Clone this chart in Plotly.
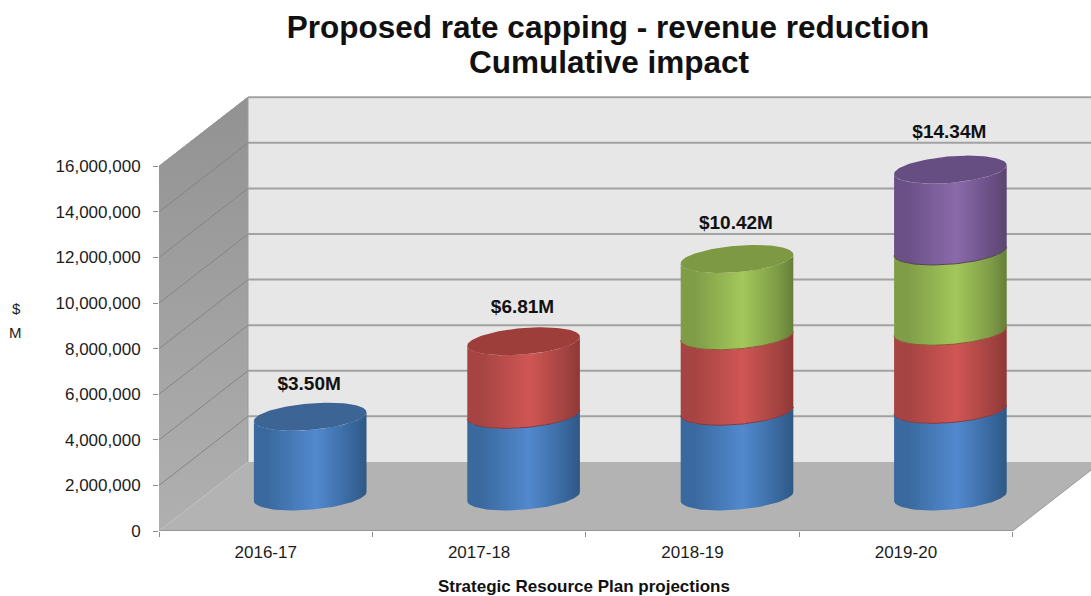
import numpy as np
import plotly.graph_objects as go

# Financial years and cumulative stacked revenue reductions, in dollars
years = ["2016-17", "2017-18", "2018-19", "2019-20"]
tranche_1 = [3500000, 3600000, 3740000, 3820000]
tranche_2 = [0, 3210000, 3310000, 3430000]
tranche_3 = [0, 0, 3370000, 3520000]
tranche_4 = [0, 0, 0, 3570000]
y_ticks = [0, 2000000, 4000000, 6000000, 8000000, 10000000, 12000000, 14000000, 16000000]

# (left shade, middle highlight, right shade, cap colour, seam colour)
PALETTE = [
    ("#39699F", "#5289CE", "#2E5985", "#3C6595", "#35598A"),
    ("#A54442", "#D05654", "#8F3836", "#9D3E3B", "#7E3A44"),
    ("#7F9D47", "#A3C75B", "#667F39", "#7E9943", "#8A5A35"),
    ("#6A5086", "#8B6AAB", "#5C4571", "#664E82", "#574450"),
]

# Oblique projection of the chart box, in axis units
VALUE_MAX = 16000000
DEPTH_X = 0.417
DEPTH_Y = 3030000
RADIUS_X = 0.25
SHEAR_X = 0.0845
RADIUS_Y = 614000
FONT = "Liberation Sans"
INK = "#1c1c1c"


def ellipse(cx, cy, t):
    return cx + RADIUS_X * np.cos(t) + SHEAR_X * np.sin(t), cy + RADIUS_Y * np.sin(t)


def add_fill(fig, xs, ys, **kwargs):
    fig.add_trace(go.Scatter(x=xs, y=ys, mode="lines", fill="toself", line=dict(width=0),
                             hoverinfo="skip", showlegend=False, **kwargs))


fig = go.Figure()
n = len(years)

# Back wall, side wall and floor of the chart box
add_fill(fig, [DEPTH_X, n + DEPTH_X, n + DEPTH_X, DEPTH_X],
         [DEPTH_Y, DEPTH_Y, VALUE_MAX + DEPTH_Y, VALUE_MAX + DEPTH_Y], fillcolor="#E7E7E7")
add_fill(fig, [0, DEPTH_X, DEPTH_X, 0], [0, DEPTH_Y, VALUE_MAX + DEPTH_Y, VALUE_MAX],
         fillgradient=dict(type="vertical", colorscale=[[0, "#B0B0B0"], [1, "#929292"]]))
add_fill(fig, [0, n, n + DEPTH_X, DEPTH_X], [0, 0, DEPTH_Y, DEPTH_Y], fillcolor="#B3B3B3")

# Gridlines bending from the side wall onto the back wall
side_x, side_y, back_x, back_y = [], [], [], []
for v in y_ticks:
    if v > 0:
        side_x += [0, DEPTH_X, None]
        side_y += [v, v + DEPTH_Y, None]
        back_x += [DEPTH_X, n + DEPTH_X, None]
        back_y += [v + DEPTH_Y, v + DEPTH_Y, None]
fig.add_trace(go.Scatter(x=side_x, y=side_y, mode="lines", line=dict(color="#858585", width=1),
                         hoverinfo="skip", showlegend=False))
fig.add_trace(go.Scatter(x=back_x, y=back_y, mode="lines", line=dict(color="#A2A2A2", width=2),
                         hoverinfo="skip", showlegend=False))

# Box outline and the category axis line
fig.add_trace(go.Scatter(x=[0, DEPTH_X, DEPTH_X, None, n, n + DEPTH_X],
                         y=[VALUE_MAX, VALUE_MAX + DEPTH_Y, DEPTH_Y, None, 0, DEPTH_Y],
                         mode="lines", line=dict(color="#9A9A9A", width=1),
                         hoverinfo="skip", showlegend=False))
fig.add_trace(go.Scatter(x=[0, n], y=[0, 0], mode="lines", line=dict(color="#8C8C8C", width=1.5),
                         hoverinfo="skip", showlegend=False))

# Stacked cylinders, drawn bottom-up so each segment overlaps the one below
t_extreme = np.arctan2(SHEAR_X, RADIUS_X)
front = np.linspace(t_extreme, t_extreme - np.pi, 60)
full = np.linspace(0, 2 * np.pi, 120)
series = [tranche_1, tranche_2, tranche_3, tranche_4]
totals = [sum(s[i] for s in series) for i in range(n)]

for i in range(n):
    cx = i + 0.5 + DEPTH_X / 2
    base = DEPTH_Y / 2
    top_style = None
    for s, style in zip(series, PALETTE):
        h = s[i]
        if h <= 0:
            continue
        bx, by = ellipse(cx, base, front)
        tx, ty = ellipse(cx, base + h, front)
        add_fill(fig, list(bx) + list(tx[::-1]), list(by) + list(ty[::-1]),
                 fillgradient=dict(type="horizontal", colorscale=[
                     [0, style[0]], [0.12, style[0]], [0.55, style[1]],
                     [0.85, style[0]], [1, style[2]]]))
        if base > DEPTH_Y / 2:
            fig.add_trace(go.Scatter(x=bx, y=by, mode="lines", line=dict(color=style[4], width=1),
                                     hoverinfo="skip", showlegend=False))
        base += h
        top_style = style
    cap_x, cap_y = ellipse(cx, base, full)
    add_fill(fig, cap_x, cap_y, fillcolor=top_style[3])

# Total labels above each column
fig.add_trace(go.Scatter(
    x=[i + 0.495 + DEPTH_X / 2 for i in range(n)],
    y=[t * 1.02 + DEPTH_Y / 2 + 1316000 for t in totals],
    mode="text", text=[f"${t / 1e6:.2f}M" for t in totals], textposition="middle center",
    textfont=dict(family=FONT, size=19, color="#111111", weight="bold"),
    hoverinfo="skip", showlegend=False, cliponaxis=False))

PLOT_H = 531
PLOT_W = 932
TITLE_FONT = dict(family=FONT, size=31.5, color="#111111")

fig.update_layout(
    width=1091, height=596, autosize=False,
    margin=dict(l=159, r=0, t=0, b=65),
    paper_bgcolor="white", plot_bgcolor="white",
    showlegend=False,
    font=dict(family=FONT, color=INK),
    title=dict(text="<b>Proposed rate capping - revenue reduction</b>",
               x=608 / 1091, xanchor="center", y=1 - 27 / 596, yanchor="middle", font=TITLE_FONT),
    xaxis=dict(range=[0, PLOT_W / 213.4], tickmode="array", tickvals=[i + 0.5 for i in range(n)],
               ticktext=years, ticks="outside", ticklen=6, tickcolor="rgba(0,0,0,0)",
               showgrid=False, zeroline=False, showline=False, fixedrange=True,
               tickfont=dict(family=FONT, size=17, color=INK),
               minor=dict(tickmode="array", tickvals=list(range(n + 1)), ticks="outside",
                          ticklen=5, tickcolor="#8C8C8C", showgrid=False)),
    yaxis=dict(range=[0, PLOT_H / 364.7 * VALUE_MAX], tickmode="array", tickvals=y_ticks,
               tickformat=",d", ticks="outside", ticklen=5, tickcolor="#8C8C8C",
               ticklabelstandoff=9, showgrid=False, zeroline=False, showline=False,
               fixedrange=True, tickfont=dict(family=FONT, size=17, color=INK)),
    annotations=[
        dict(text="<b>Cumulative impact</b>", xref="paper", yref="paper",
             x=(609 - 159) / PLOT_W, y=(PLOT_H - 62) / PLOT_H, showarrow=False,
             xanchor="center", yanchor="middle", font=TITLE_FONT),
        dict(text="<b>Strategic Resource Plan projections</b>", xref="paper", yref="paper",
             x=(584 - 159) / PLOT_W, y=(PLOT_H - 586.5) / PLOT_H, showarrow=False,
             xanchor="center", yanchor="middle", font=dict(family=FONT, size=17, color="#111111")),
        dict(text="$", xref="paper", yref="paper",
             x=(16 - 159) / PLOT_W, y=(PLOT_H - 308) / PLOT_H, showarrow=False,
             xanchor="center", yanchor="middle", font=dict(family=FONT, size=15, color=INK)),
        dict(text="M", xref="paper", yref="paper",
             x=(15 - 159) / PLOT_W, y=(PLOT_H - 332) / PLOT_H, showarrow=False,
             xanchor="center", yanchor="middle", font=dict(family=FONT, size=15, color=INK)),
    ],
)

fig.write_html("out.html", config=dict(displayModeBar=False))
